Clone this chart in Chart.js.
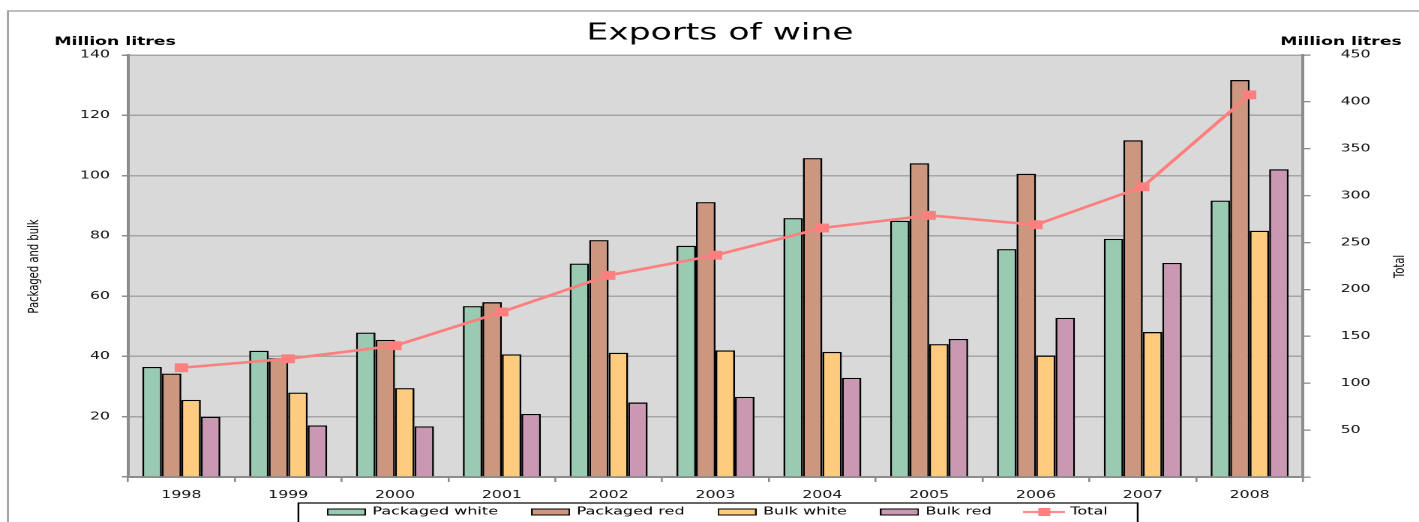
<!DOCTYPE html>
<html>
<head>
<meta charset="utf-8">
<script src="https://cdn.jsdelivr.net/npm/chart.js@4.4.1/dist/chart.umd.min.js"></script>
<style>
  html, body { margin: 0; padding: 0; background: #fff; overflow: hidden; }
  /* the reference picture is stretched sideways, so draw narrow and widen it */
  #wrap { position: absolute; left: 0; top: 0; width: 946px; height: 552.3px;
          transform: scaleX(1.5); transform-origin: 0 0; }
</style>
</head>
<body>
<div id="wrap"><canvas id="wine"></canvas></div>
<script>
var years = ['1998', '1999', '2000', '2001', '2002', '2003', '2004', '2005', '2006', '2007', '2008'];

var packagedWhite = [36.5, 41.9, 47.9, 56.7, 70.8, 76.7, 85.9, 85.0, 75.6, 79.0, 91.7];
var packagedRed   = [34.3, 39.4, 45.5, 58.0, 78.6, 91.2, 105.8, 104.1, 100.6, 111.7, 131.7];
var bulkWhite     = [25.6, 28.0, 29.5, 40.7, 41.2, 42.0, 41.5, 44.1, 40.3, 48.1, 81.7];
var bulkRed       = [20.0, 17.1, 16.8, 20.9, 24.7, 26.6, 32.9, 45.8, 52.8, 71.0, 102.1];
var total         = [116.5, 126, 140, 176, 215, 236.5, 265.5, 279, 269, 309.5, 407.5];

var leftTicks  = [0, 140, 20];   // min, max, step
var rightTicks = [0, 450, 50];

var FONT = 'DejaVu Sans';
var GRID = '#a6a6a6';
var AXIS = '#8c8c8c';
var LEG_PAD = 23;

function boxImage(fill) {
  var c = document.createElement('canvas');
  c.width = 26; c.height = 7;
  var g = c.getContext('2d');
  g.fillStyle = fill;
  g.fillRect(0, 0, 26, 7);
  g.strokeStyle = '#000';
  g.lineWidth = 1;
  g.strokeRect(0.5, 0.5, 25, 6);
  return c;
}

function lineImage(color) {
  var c = document.createElement('canvas');
  c.width = 28; c.height = 8;
  var g = c.getContext('2d');
  g.fillStyle = color;
  g.fillRect(0, 3, 28, 2);
  g.fillRect(10, 0, 8, 8);
  return c;
}

var barStyle = function (label, data, color) {
  return {
    type: 'bar',
    label: label,
    data: data,
    backgroundColor: color,
    borderColor: '#000',
    borderWidth: 1.3,
    yAxisID: 'y',
    order: 1,
    legendImg: boxImage(color)
  };
};

var decor = {
  id: 'decor',
  afterLayout: function (chart) {
    // pull the legend up under the year labels, as in the picture
    var lg = chart.legend;
    var dy = (lg.top + LEG_PAD) - 506.6;
    lg.top -= dy; lg.bottom -= dy;
    lg.left += 5.7; lg.right += 5.7;
  },
  beforeDraw: function (chart) {
    var ctx = chart.ctx, a = chart.chartArea;
    ctx.save();
    ctx.strokeStyle = '#9a9a9a';
    ctx.lineWidth = 1.3;
    ctx.strokeRect(5.3, 11, 2000, 2000);
    ctx.fillStyle = '#d9d9d9';
    ctx.fillRect(a.left, a.top, a.right - a.left, a.bottom - a.top);
    ctx.restore();
  },
  afterDraw: function (chart) {
    var ctx = chart.ctx;
    ctx.save();
    ctx.fillStyle = '#000';
    ctx.textAlign = 'center';
    ctx.textBaseline = 'alphabetic';
    ctx.font = '23px "' + FONT + '"';
    ctx.fillText('Exports of wine', 480, 39.3);
    ctx.font = 'bold 11.5px "' + FONT + '"';
    ctx.fillText('Million litres', 76.7, 45);
    ctx.fillText('Million litres', 894, 45);

    ctx.font = '10px "' + FONT + '"';
    ctx.textBaseline = 'middle';
    ctx.save();
    ctx.translate(22.7, 266.5);
    ctx.rotate(-Math.PI / 2);
    ctx.fillText('Packaged and bulk', 0, 0);
    ctx.restore();
    ctx.save();
    ctx.translate(933.3, 266.5);
    ctx.rotate(-Math.PI / 2);
    ctx.fillText('Total', 0, 0);
    ctx.restore();

    // frame round the legend
    var hb = chart.legend.legendHitBoxes;
    if (hb && hb.length) {
      var l = hb[0].left - 20;
      var last = hb[hb.length - 1];
      var r = last.left + last.width + 20;
      var t = 503;
      ctx.strokeStyle = '#000';
      ctx.lineWidth = 1.2;
      ctx.strokeRect(l, t, r - l, 100);
    }
    ctx.restore();
  }
};

var ctx = document.getElementById('wine');
var wineChart = new Chart(ctx, {
  data: {
    labels: years,
    datasets: [
      barStyle('Packaged white', packagedWhite, '#99cbb3'),
      barStyle('Packaged red', packagedRed, '#cc977e'),
      barStyle('Bulk white', bulkWhite, '#ffcb7f'),
      barStyle('Bulk red', bulkRed, '#cb98b4'),
      {
        type: 'line',
        label: 'Total',
        data: total,
        yAxisID: 'y2',
        borderColor: '#ff7f7f',
        backgroundColor: '#ff7f7f',
        borderWidth: 2.6,
        tension: 0,
        pointStyle: 'rect',
        pointRadius: 6.3,
        pointBorderWidth: 0,
        pointBackgroundColor: '#ff7f7f',
        order: 0,
        legendImg: lineImage('#ff7f7f')
      }
    ]
  },
  options: {
    responsive: true,
    maintainAspectRatio: false,
    animation: false,
    devicePixelRatio: 2,
    layout: { padding: { top: 55, bottom: 0, left: 0, right: 0 } },
    datasets: {
      bar: { barPercentage: 1, categoryPercentage: 0.73 }
    },
    scales: {
      x: {
        grid: { offset: true, drawOnChartArea: false, drawTicks: true, tickLength: 5, color: AXIS, lineWidth: 1.3 },
        border: { display: true, color: AXIS, width: 2 },
        ticks: { font: { family: FONT, size: 10.5 }, color: '#111', padding: 7, maxRotation: 0 }
      },
      y: {
        position: 'left',
        min: leftTicks[0], max: leftTicks[1],
        afterFit: function (s) { s.width = 85.3; },
        grid: { color: GRID, lineWidth: 1.5, tickLength: 4, tickColor: AXIS },
        border: { display: true, color: AXIS, width: 2 },
        ticks: {
          stepSize: leftTicks[2], padding: 8,
          font: { family: FONT, size: 10.5 }, color: '#111',
          callback: function (v) { return v === 0 ? '' : v; }
        }
      },
      y2: {
        position: 'right',
        min: rightTicks[0], max: rightTicks[1],
        afterFit: function (s) { s.width = 77.3; },
        grid: { drawOnChartArea: false, tickLength: 5, color: AXIS, lineWidth: 1.3 },
        border: { display: true, color: AXIS, width: 2 },
        ticks: {
          stepSize: rightTicks[2], padding: 20, align: 'center',
          font: { family: FONT, size: 10.5 }, color: '#111',
          callback: function (v) { return v === 0 ? '' : v; }
        }
      }
    },
    plugins: {
      title: { display: false },
      tooltip: { enabled: false },
      legend: {
        position: 'bottom',
        labels: {
          usePointStyle: true,
          pointStyleWidth: 24,
          boxHeight: 7,
          padding: LEG_PAD,
          color: '#000',
          font: { family: FONT, size: 10.7 },
          generateLabels: function (chart) {
            return chart.data.datasets.map(function (ds, i) {
              return {
                text: ds.label,
                pointStyle: ds.legendImg,
                fillStyle: ds.backgroundColor,
                strokeStyle: '#000',
                lineWidth: 0,
                hidden: false,
                datasetIndex: i
              };
            });
          }
        }
      }
    }
  },
  plugins: [decor]
});
</script>
</body>
</html>
